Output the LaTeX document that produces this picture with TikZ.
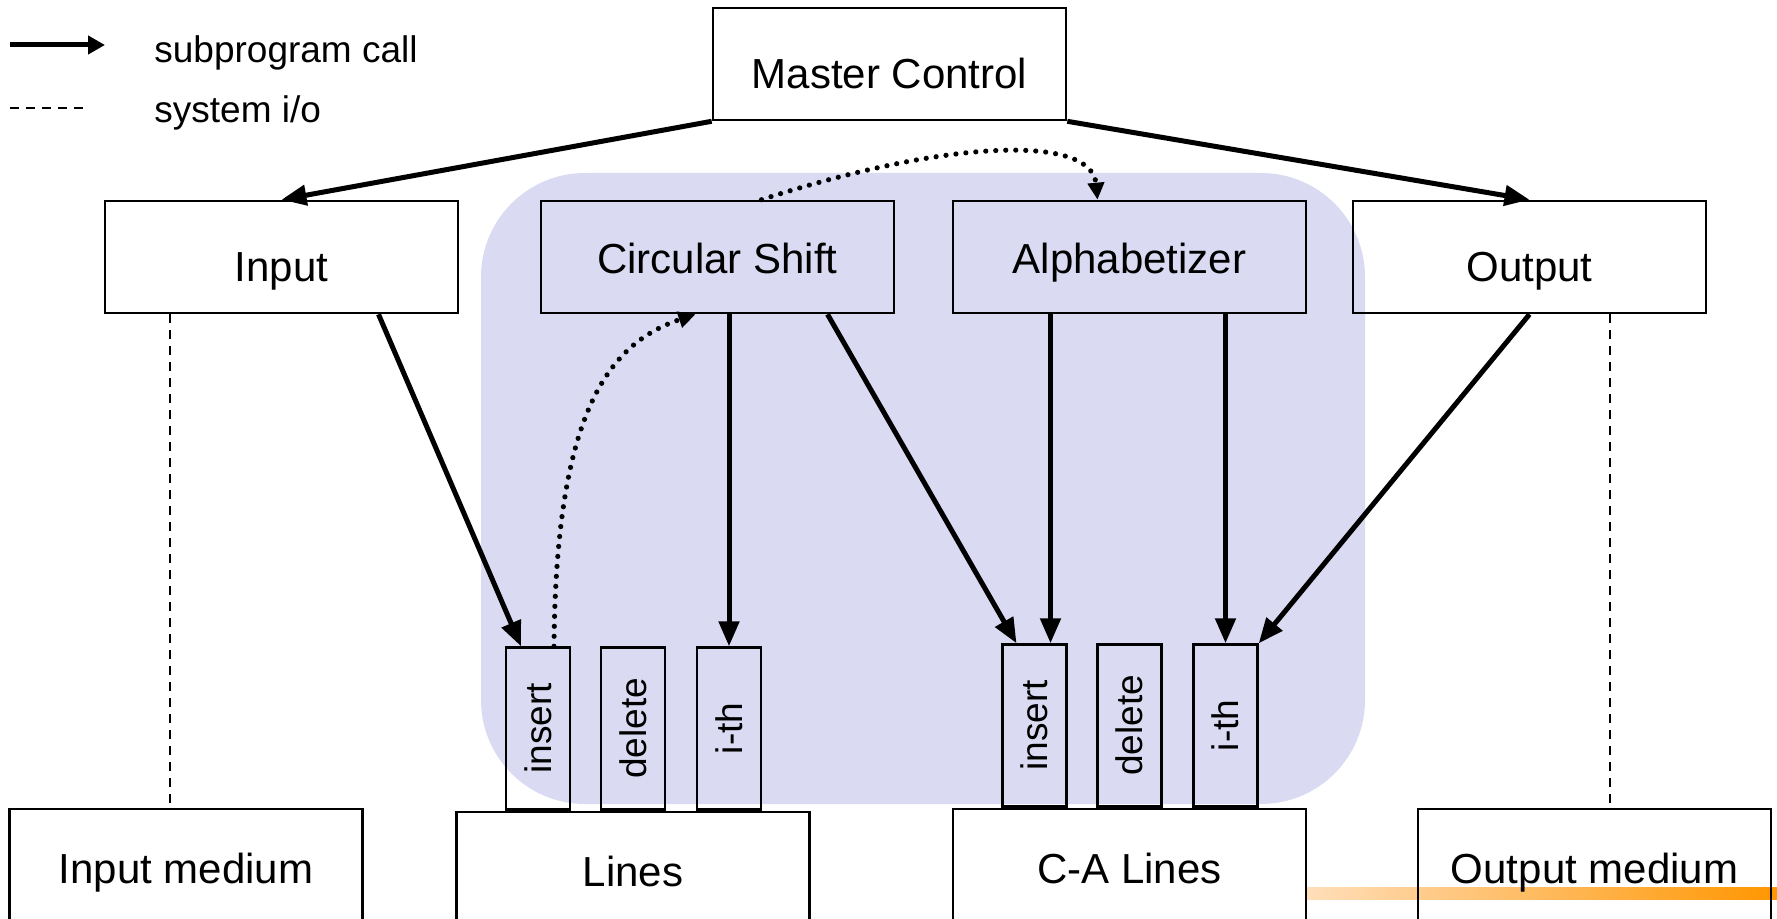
\documentclass[tikz,border=0pt]{standalone}
\usepackage{fontspec}
\setmainfont{Liberation Sans}
\usepackage{graphicx}
\usetikzlibrary{arrows.meta,calc}
\definecolor{bgblue}{RGB}{218,218,242}
\definecolor{barpale}{RGB}{255,222,186}
\definecolor{barorange}{RGB}{255,150,0}

\begin{document}
\begin{tikzpicture}[x=0.5pt,y=-0.5pt,
    modbox/.style={draw,line width=1.3pt,minimum width=176.5pt,minimum height=56pt,inner sep=0pt,
      font=\fontsize{21}{25}\selectfont,text height=15pt,text depth=0pt},
    lowtext/.style={text height=25pt},
    medbox/.style={modbox,minimum height=59pt},
    opbox/.style={draw,line width=1.2pt,minimum width=32pt,minimum height=81pt,inner sep=0pt,
      anchor=south,font=\fontsize{18.5}{22}\selectfont},
    legend/.style={inner sep=0pt,font=\fontsize{18.5}{22}\selectfont},
    call/.style={line width=2.5pt,-{Triangle[length=12.5pt,width=10pt]}},
    link/.style={line width=2.6pt,line cap=round,dash pattern=on 0pt off 5pt,
      -{Triangle[length=8.5pt,width=8pt]}},
    sysio/.style={line width=1pt,dash pattern=on 4.5pt off 3.5pt}]

\useasboundingbox (0,0) rectangle (1777,919);
\clip (0,0) rectangle (1777,919);

% backgrounds
\fill[bgblue,rounded corners=52pt] (481,173) rectangle (1365,804);
\shade[left color=barpale,right color=barorange] (1307,887) rectangle (1777,899);

% legend
\coordinate (callA) at (10,45);
\coordinate (callB) at (105,45);
\draw[call,-{Triangle[length=8.5pt,width=9pt]}] (callA) -- (callB);
\node[legend,anchor=base west] (calltxt) at (154,63) {subprogram call};
\coordinate (ioA) at (10,108);
\coordinate (ioB) at (90,108);
\draw[sysio] (ioA) -- (ioB);
\node[legend,anchor=base west] (iotxt) at (154,123) {system i/o};

% modules
\node[modbox,lowtext] (master) at (889.5,64) {Master Control};
\node[modbox,lowtext] (input) at (281.5,257) {Input};
\node[modbox,text height=17pt] (cshift) at (717.5,257) {Circular Shift};
\node[modbox,text height=17pt] (alpha) at (1129.5,257) {Alphabetizer};
\node[modbox,lowtext] (output) at (1529.5,257) {Output};

% storage
\node[medbox] (inmed) at (186,868) {Input medium};
\node[medbox] (lines) at (633,871) {Lines};
\node[medbox] (calines) at (1129.5,868) {C-A Lines};
\node[medbox] (outmed) at (1594.5,868) {Output medium};

% access routines
\node[opbox] (l-ins) at ($(lines.north)+(-95,0)$) {\rotatebox{90}{insert}};
\node[opbox] (l-del) at (lines.north) {\rotatebox{90}{delete}};
\node[opbox] (l-ith) at ($(lines.north)+(96,0)$) {\rotatebox{90}{i-th}};
\node[opbox] (c-ins) at ($(calines.north)+(-95,0)$) {\rotatebox{90}{insert}};
\node[opbox] (c-del) at (calines.north) {\rotatebox{90}{delete}};
\node[opbox] (c-ith) at ($(calines.north)+(96,0)$) {\rotatebox{90}{i-th}};

% subprogram calls
\draw[call] (master.south west) -- (input.north);
\draw[call] (master.south east) -- (output.north);
\draw[call] ($(input.south)+(97,0)$) -- ($(l-ins.north)+(-17,0)$);
\draw[call] (cshift.south -| l-ith.north) -- (l-ith.north);
\draw[call] ($(cshift.south)+(110,0)$) -- ($(c-ins.north)+(-18,0)$);
\coordinate (c-ins-r) at ($(c-ins.north)+(16,0)$);
\draw[call] (alpha.south -| c-ins-r) -- (c-ins-r);
\draw[call] (alpha.south -| c-ith.north) -- (c-ith.north);
\draw[call] (output.south) -- (c-ith.north east);

% system i/o
\coordinate (in-io) at ($(input.south)+(-112,0)$);
\draw[sysio] (in-io) -- (in-io |- inmed.north);
\coordinate (out-io) at ($(output.south)+(80,0)$);
\draw[sysio] (out-io) -- (out-io |- outmed.north);

% dotted links
\draw[link] ($(l-ins.north)+(16,0)$) .. controls +(2,-229) and +(-90,30) .. ($(cshift.south)+(-22,0)$);
\draw[link] ($(cshift.north)+(44,0)$) .. controls +(188,-61) and +(-6,-65) .. ($(alpha.north)+(-32,0)$);
\end{tikzpicture}
\end{document}
